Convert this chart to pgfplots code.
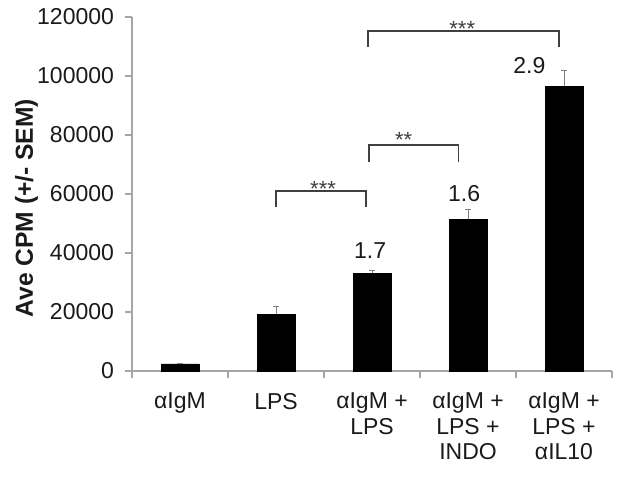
\documentclass[border=0pt]{standalone}
\usepackage{fontspec}
\setmainfont{Liberation Sans}
\usepackage{pgfplots}
\pgfplotsset{compat=1.18}
\definecolor{txt}{HTML}{1A1A1A}
\definecolor{eixo}{HTML}{A6A6A6}
\definecolor{erro}{HTML}{808080}
\definecolor{chave}{HTML}{404040}
\tikzset{
  rotulo/.style={anchor=base, font=\fontsize{11.5}{13}\selectfont, text=txt},
  estrela/.style={anchor=base, font=\fontsize{11}{13}\selectfont, text=chave},
  colchete/.style={draw=chave, line width=0.75pt},
}
\begin{document}
\begin{tikzpicture}
\useasboundingbox (-66pt,-53pt) rectangle (246pt,185.5pt);
\begin{axis}[
    scale only axis, width=240pt, height=177pt,
    xmin=-0.5, xmax=4.5, ymin=0, ymax=120000,
    axis lines=left,
    axis line style={-, draw=eixo, line width=0.6pt},
    tick align=outside, major tick length=3.5pt,
    tick style={draw=eixo, line width=0.6pt},
    xtick={-0.5,0.5,1.5,2.5,3.5,4.5},
    x tick label as interval,
    xticklabels={{αIgM},{LPS},{αIgM +\\LPS},{αIgM +\\LPS +\\INDO},{αIgM +\\LPS +\\αIL10}},
    xticklabel style={align=center, anchor=north, font=\fontsize{11.5}{12.75}\selectfont, text=txt, yshift=-4pt},
    ytick={0,20000,40000,60000,80000,100000,120000},
    yticklabels={0,20000,40000,60000,80000,100000,120000},
    scaled y ticks=false,
    yticklabel style={font=\fontsize{11.5}{13}\selectfont, text=txt, xshift=-2pt},
    ylabel={Ave CPM (+/- SEM)},
    ylabel style={font=\bfseries\fontsize{12.3}{14}\selectfont, text=txt, at={(axis description cs:-0.22,0.46)}, anchor=center},
    clip=false,
]
\addplot[ybar, bar width=19pt, fill=black, draw=black,
    error bars/.cd, y dir=plus, y explicit,
    error bar style={draw=erro, line width=0.5pt},
    error mark options={draw=erro, line width=0.5pt, mark size=1.7pt, rotate=90}]
    coordinates {
    (0,2400) +- (0,300)
    (1,19300) +- (0,2400)
    (2,33200) +- (0,1000)
    (3,51500) +- (0,3400)
    (4,96600) +- (0,5100)
    };
% colchetes de significancia
\draw[colchete] (axis cs:1,55600) -- (axis cs:1,61000) -- (axis cs:1.94,61000) -- (axis cs:1.94,55600);
\draw[colchete] (axis cs:1.97,70850) -- (axis cs:1.97,76600) -- (axis cs:2.90,76600) -- (axis cs:2.90,70850);
\draw[colchete] (axis cs:1.96,109800) -- (axis cs:1.96,115250) -- (axis cs:3.95,115250) -- (axis cs:3.95,109800);
\node[estrela] at (axis cs:1.49,59300) {***};
\node[estrela] at (axis cs:2.33,75600) {**};
\node[estrela] at (axis cs:2.94,113500) {***};
\node[rotulo] at (axis cs:1.98,38300) {1.7};
\node[rotulo] at (axis cs:2.96,57600) {1.6};
\node[rotulo] at (axis cs:3.64,100700) {2.9};
\end{axis}
\end{tikzpicture}
\end{document}
